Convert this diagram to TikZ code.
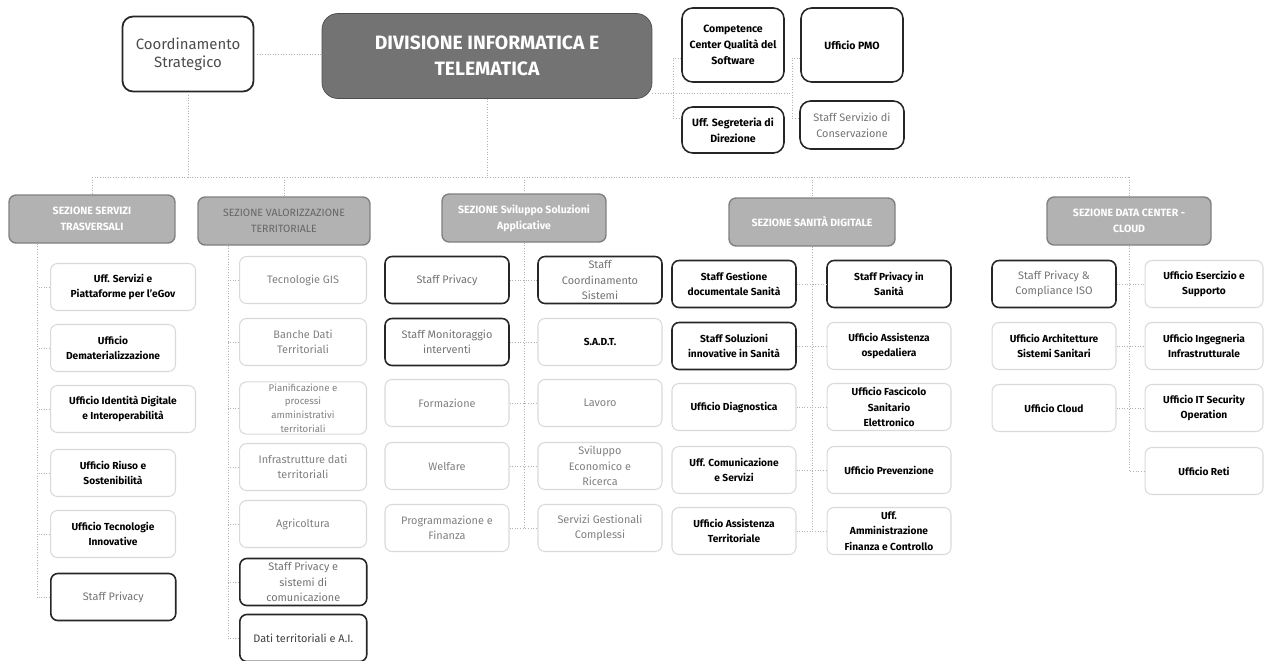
\documentclass[tikz,border=0pt]{standalone}
\usepackage{fontspec}
\setmainfont{Fira Sans}
\tikzset{
  link/.style={draw=black!30, densely dotted, line width=0.5pt},
  unit/.style={rounded corners=4pt, align=center, inner sep=1pt, minimum width=2.48cm, minimum height=0.94cm, font=\fontsize{6.2}{8.8}\selectfont},
  boldbox/.style={unit, draw=black!15, line width=0.6pt, text=black, font=\fontsize{5.8}{8.8}\selectfont\bfseries},
  boldwide/.style={boldbox, minimum width=2.9cm},
  greybox/.style={unit, draw=black!15, line width=0.6pt, text=black!50},
  greysmall/.style={greybox, font=\fontsize{5.5}{7.8}\selectfont},
  staffbox/.style={unit, draw=black!85, line width=0.9pt, text=black!55},
  staffdark/.style={staffbox, text=black!75},
  staffbold/.style={unit, draw=black!85, line width=0.9pt, text=black, font=\fontsize{5.8}{8.8}\selectfont\bfseries},
  topbox/.style={staffbold, rounded corners=6pt, minimum width=2.04cm, minimum height=1.48cm, font=\fontsize{6}{9.2}\selectfont\bfseries},
  topgrey/.style={staffbox, rounded corners=6pt, minimum width=2.08cm, minimum height=0.96cm, font=\fontsize{6.2}{9.2}\selectfont},
  coordbox/.style={rounded corners=6pt, draw=black!85, line width=1pt, text=black!70, align=center, minimum width=2.62cm, minimum height=1.5cm, font=\fontsize{8.5}{10.5}\selectfont},
  headbox/.style={rounded corners=9pt, draw=black!70, fill=black!55, text=white, align=center, minimum width=6.6cm, minimum height=1.7cm, font=\fontsize{11}{15}\selectfont\bfseries},
  sectbox/.style={rounded corners=4pt, draw=black!50, line width=0.8pt, fill=black!30, text=white, align=center, inner sep=1pt, minimum height=0.96cm, font=\fontsize{6}{9}\selectfont\bfseries},
  colA/.style={anchor=west, minimum width=2.5cm},
  colB/.style={anchor=west, minimum width=2.54cm}
}
\begin{document}
\begin{tikzpicture}[x=0.02cm,y=-0.02cm]
  \useasboundingbox (0,0) rectangle (1266,660);

  \node[coordbox] (coord) at (188,54) {Coordinamento\\Strategico};
  \node[headbox] (div) at (487,56) {DIVISIONE INFORMATICA E\\TELEMATICA};
  \node[topbox] (ccqs) at (733,45) {Competence\\Center Qualità del\\Software};
  \node[topbox] (pmo) at (852,45) {Ufficio PMO};
  \node[topbox, minimum height=0.92cm] (segr) at (733,130) {Uff. Segreteria di\\Direzione};
  \node[topgrey] (cons) at (852,125) {Staff Servizio di\\Conservazione};

  \node[sectbox, minimum width=3.32cm] (sTR) at (92,219) {SEZIONE SERVIZI\\TRASVERSALI};
  \node[sectbox, minimum width=3.44cm, text=black!60, font=\fontsize{6}{9}\selectfont] (sVT) at (284,221) {SEZIONE VALORIZZAZIONE\\TERRITORIALE};
  \node[sectbox, minimum width=3.28cm] (sSV) at (524,218) {SEZIONE Sviluppo Soluzioni\\Applicative};
  \node[sectbox, minimum width=3.32cm] (sSD) at (812,222) {SEZIONE SANITÀ DIGITALE};
  \node[sectbox, minimum width=3.28cm] (sDC) at (1129,221) {SEZIONE DATA CENTER -\\CLOUD};

  \node[boldwide, anchor=west] (tr1) at (50,287) {Uff. Servizi e\\Piattaforme per l'eGov};
  \node[boldbox, colA] (tr2) at (50,348) {Ufficio\\Dematerializzazione};
  \node[boldwide, anchor=west] (tr3) at (50,409) {Ufficio Identità Digitale\\e Interoperabilità};
  \node[boldbox, colA] (tr4) at (50,473) {Ufficio Riuso e\\Sostenibilità};
  \node[boldbox, colA] (tr5) at (50,534) {Ufficio Tecnologie\\Innovative};
  \node[staffbox, colA] (tr6) at (50,597) {Staff Privacy};

  \node[greybox, colB] (vt1) at (239,280) {Tecnologie GIS};
  \node[greybox, colB] (vt2) at (239,342) {Banche Dati\\Territoriali};
  \node[greysmall, colB] (vt3) at (239,408) {Pianificazione e\\processi\\amministrativi\\territoriali};
  \node[greybox, colB] (vt4) at (239,467) {Infrastrutture dati\\territoriali};
  \node[greybox, colB] (vt5) at (239,524) {Agricoltura};
  \node[staffbox, colB] (vt6) at (239,582) {Staff Privacy e\\sistemi di\\comunicazione};
  \node[staffdark, colB] (vt7) at (239,638) {Dati territoriali e A.I.};

  \node[staffbox] (sl1) at (447,280) {Staff Privacy};
  \node[staffbox] (sl2) at (447,342) {Staff Monitoraggio\\interventi};
  \node[greybox] (sl3) at (447,403) {Formazione};
  \node[greybox] (sl4) at (447,466) {Welfare};
  \node[greybox] (sl5) at (447,528) {Programmazione e\\Finanza};
  \node[staffbox] (sr1) at (600,280) {Staff\\Coordinamento\\Sistemi};
  \node[boldbox] (sr2) at (600,342) {S.A.D.T.};
  \node[greybox] (sr3) at (600,403) {Lavoro};
  \node[greybox] (sr4) at (600,466) {Sviluppo\\Economico e\\Ricerca};
  \node[greybox] (sr5) at (600,528) {Servizi Gestionali\\Complessi};

  \node[staffbold] (hl1) at (734,284) {Staff Gestione\\documentale Sanità};
  \node[staffbold] (hl2) at (734,346) {Staff Soluzioni\\innovative in Sanità};
  \node[boldbox] (hl3) at (734,407) {Ufficio Diagnostica};
  \node[boldbox] (hl4) at (734,470) {Uff. Comunicazione\\e Servizi};
  \node[boldbox] (hl5) at (734,531) {Ufficio Assistenza\\Territoriale};
  \node[staffbold] (hr1) at (889,284) {Staff Privacy in\\Sanità};
  \node[boldbox] (hr2) at (889,346) {Ufficio Assistenza\\ospedaliera};
  \node[boldbox] (hr3) at (889,407) {Ufficio Fascicolo\\Sanitario\\Elettronico};
  \node[boldbox] (hr4) at (889,470) {Ufficio Prevenzione};
  \node[boldbox] (hr5) at (889,531) {Uff.\\Amministrazione\\Finanza e Controllo};

  \node[staffbox] (cl1) at (1054,284) {Staff Privacy \&\\Compliance ISO};
  \node[boldbox] (cl2) at (1054,346) {Ufficio Architetture\\Sistemi Sanitari};
  \node[boldbox] (cl3) at (1054,408) {Ufficio Cloud};
  \node[boldbox, minimum width=2.36cm] (cr1) at (1204,284) {Ufficio Esercizio e\\Supporto};
  \node[boldbox, minimum width=2.36cm] (cr2) at (1204,346) {Ufficio Ingegneria\\Infrastrutturale};
  \node[boldbox, minimum width=2.36cm] (cr3) at (1204,408) {Ufficio IT Security\\Operation};
  \node[boldbox, minimum width=2.36cm] (cr4) at (1204,471) {Ufficio Reti};

  \coordinate (bus) at (0,177);
  \coordinate (r1) at (673,93);
  \coordinate (r2) at (792,93);
  \coordinate (rt) at (0,58);
  \coordinate (rb) at (0,118);
  \coordinate (sp1) at (37,0);
  \coordinate (sp2) at (228,0);

  \draw[link] (coord.east) -- (coord.east -| div.west);
  \draw[link] (coord.south) -- (coord.south |- bus);
  \draw[link] (div.south) -- (div.south |- bus);
  \draw[link] (sTR.north |- bus) -- (sDC.north |- bus);
  \foreach \s in {sTR,sVT,sSV,sSD,sDC} {
    \draw[link] (\s.north |- bus) -- (\s.north);
  }

  \draw[link] (div.east |- r1) -- (r2);
  \draw[link] (ccqs.west |- rt) -| (r1) |- (segr.west |- rb);
  \draw[link] (pmo.west |- rt) -| (r2) |- (cons.west |- rb);

  \draw[link] (sTR.south -| sp1) -- (tr6.west -| sp1);
  \foreach \i in {1,...,6} {
    \draw[link] (tr\i.west) -- (tr\i.west -| sp1);
  }
  \draw[link] (sVT.south -| sp2) -- (vt7.west -| sp2);
  \foreach \i in {1,...,7} {
    \draw[link] (vt\i.west) -- (vt\i.west -| sp2);
  }

  \draw[link] (sSV.south) -- (sSV.south |- sl5);
  \foreach \i in {1,...,5} {
    \draw[link] (sl\i) -- (sr\i);
  }
  \draw[link] (sSD.south) -- (sSD.south |- hl5);
  \foreach \i in {1,...,5} {
    \draw[link] (hl\i) -- (hr\i);
  }
  \draw[link] (sDC.south) -- (sDC.south |- cr4);
  \foreach \i in {1,2,3} {
    \draw[link] (cl\i) -- (cr\i);
  }
  \draw[link] (cr4.west) -- (cr4.west -| sDC.south);
\end{tikzpicture}
\end{document}
